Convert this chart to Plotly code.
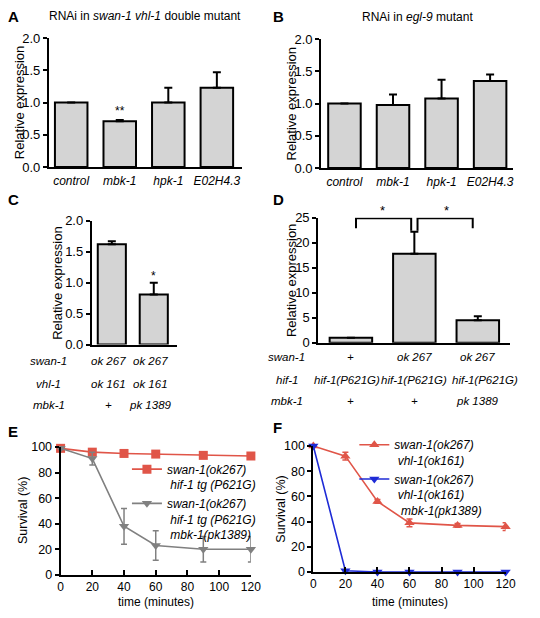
import plotly.graph_objects as go

W, H = 540, 618
def fx(px): return px / W
def fy(py): return 1 - py / H

# ---------------- data ----------------
a_cats = ["control", "mbk-1", "hpk-1", "E02H4.3"]
a_vals = [1.00, 0.71, 1.00, 1.23]
a_err = [0.0, 0.02, 0.23, 0.24]
a_sig = ["", "**", "", ""]

b_cats = ["control", "mbk-1", "hpk-1", "E02H4.3"]
b_vals = [1.00, 0.98, 1.08, 1.35]
b_err = [0.0, 0.16, 0.29, 0.10]

c_rows = ["swan-1", "vhl-1", "mbk-1"]
c_geno = [["ok 267", "ok 161", "+"], ["ok 267", "ok 161", "pk 1389"]]
c_vals = [1.62, 0.81]
c_err = [0.05, 0.19]
c_sig = ["", "*"]

d_rows = ["swan-1", "hif-1", "mbk-1"]
d_geno = [["+", "hif-1(P621G)", "+"],
          ["ok 267", "hif-1(P621G)", "+"],
          ["ok 267", "hif-1(P621G)", "pk 1389"]]
d_vals = [1.0, 17.8, 4.5]
d_err = [0.0, 4.4, 0.8]

time_min = [0, 20, 40, 60, 90, 120]
e_red = [99, 96, 95, 94.5, 93.5, 93]
e_red_err = [1, 1.5, 1, 1.5, 1.5, 1.5]
e_grey = [99, 91, 38, 23, 20, 20]
e_grey_err = [1, 5, 14, 11.5, 10, 10]
e_red_name = "<i>swan-1(ok267)<br>\u00a0hif-1 tg (P621G)</i>"
e_grey_name = "<i>swan-1(ok267)<br>\u00a0hif-1 tg (P621G)<br>\u00a0mbk-1(pk1389)</i>"

f_red = [100, 92, 56, 39, 37, 36]
f_red_err = [0.5, 3, 1.5, 3, 1.5, 3]
f_blue = [100, 1, 0, 0, 0, 0]
f_red_name = "<i>swan-1(ok267)<br>\u00a0vhl-1(ok161)</i>"
f_blue_name = "<i>swan-1(ok267)<br>\u00a0vhl-1(ok161)<br>\u00a0\u00a0mbk-1(pk1389)</i>"

# ---------------- style ----------------
FONT = "Liberation Sans, Arial, sans-serif"
BAR_FILL = "#d4d4d4"
RED = "#e05548"
GREY = "#808080"
BLUE = "#1e2bd6"

fig = go.Figure()

def add_bars(vals, errs, ax):
    fig.add_trace(go.Bar(
        x=list(range(len(vals))), y=vals, width=0.67,
        marker=dict(color=BAR_FILL, line=dict(color="black", width=2)),
        error_y=dict(type="data", array=errs, arrayminus=[0] * len(errs),
                     symmetric=False, color="black", thickness=2, width=4),
        xaxis="x" + ax, yaxis="y" + ax, showlegend=False))

add_bars(a_vals, a_err, "")
add_bars(b_vals, b_err, "2")
add_bars(c_vals, c_err, "3")
add_bars(d_vals, d_err, "4")

def add_line(y, err, color, symbol, name, ax, legend):
    fig.add_trace(go.Scatter(
        x=time_min, y=y, mode="lines+markers", name=name,
        line=dict(color=color, width=1.6),
        marker=dict(color=color, symbol=symbol, size=9),
        error_y=dict(type="data", array=err, color=color, thickness=1.5, width=3),
        xaxis="x" + ax, yaxis="y" + ax, legend=legend, cliponaxis=False))

add_line(e_red, e_red_err, RED, "square", e_red_name, "5", "legend")
add_line(e_grey, e_grey_err, GREY, "triangle-down", e_grey_name, "5", "legend")
add_line(f_red, f_red_err, RED, "triangle-up", f_red_name, "6", "legend2")
add_line(f_blue, [0] * 6, BLUE, "triangle-down", f_blue_name, "6", "legend2")

tickfont = dict(family=FONT, size=13, color="black")
common = dict(showline=True, linecolor="black", linewidth=2, showgrid=False,
              zeroline=False, tickfont=tickfont, ticks="outside", ticklen=4,
              tickwidth=2, tickcolor="black")

def bar_x(domain, rng, labels=None):
    d = dict(common, domain=[fx(domain[0]), fx(domain[1])], range=rng)
    d["ticks"] = ""
    if labels:
        d.update(tickmode="array", tickvals=list(range(len(labels))),
                 ticktext=["<i>%s</i>" % s for s in labels], ticklabelstandoff=2,
                 tickfont=dict(family=FONT, size=12, color="black"))
    else:
        d.update(showticklabels=False)
    return d

def yax(domain, rng, dtick, fmt, anchor):
    return dict(common, domain=[fy(domain[0]), fy(domain[1])], range=rng,
                dtick=dtick, tickformat=fmt, anchor=anchor)

line_tick = dict(family=FONT, size=12.5, color="black")
line_xtick = dict(family=FONT, size=12, color="black")
layout = dict(
    width=W, height=H, margin=dict(l=0, r=0, t=0, b=0),
    paper_bgcolor="white", plot_bgcolor="white",
    font=dict(family=FONT, size=12, color="black"),
    xaxis=dict(bar_x((47, 245), [-0.46, 3.52], a_cats), anchor="y"),
    yaxis=yax((164, 32), [0, 2.0], 0.5, ".1f", "x"),
    xaxis2=dict(bar_x((326, 523), [-0.48, 3.48], b_cats), anchor="y2"),
    yaxis2=yax((165, 33), [0, 2.0], 0.5, ".1f", "x2"),
    xaxis3=dict(bar_x((91, 178), [-0.477, 1.547]), anchor="y3"),
    yaxis3=yax((346, 219), [0, 2.0], 0.5, ".1f", "x3"),
    xaxis4=dict(bar_x((323, 520), [-0.515, 2.515]), anchor="y4"),
    yaxis4=yax((344, 216), [0, 25], 5, "d", "x4"),
    xaxis5=dict(common, domain=[fx(59), fx(254)], range=[0, 120], dtick=20,
                ticks="inside", ticklen=5, anchor="y5", tickfont=line_xtick,
                ticklabelstandoff=0),
    yaxis5=dict(yax((582, 451), [0, 100], 20, "d", "x5"), tickfont=line_tick),
    xaxis6=dict(common, domain=[fx(318), fx(515)], range=[0, 120], dtick=20,
                ticks="inside", ticklen=5, anchor="y6", tickfont=line_xtick,
                ticklabelstandoff=0),
    yaxis6=dict(yax((579, 450), [0, 100], 20, "d", "x6"), tickfont=line_tick),
    legend=dict(x=fx(127), y=fy(459), xanchor="left", yanchor="top",
                bgcolor="rgba(0,0,0,0)", font=dict(family=FONT, size=12),
                valign="top", tracegroupgap=0, itemwidth=30),
    legend2=dict(x=fx(360), y=fy(434), xanchor="left", yanchor="top",
                 bgcolor="rgba(0,0,0,0)", font=dict(family=FONT, size=12),
                 valign="top", tracegroupgap=0, itemwidth=30),
)
fig.update_layout(**layout)

ann = []
def txt(x, y, s, size=12, xref="paper", yref="paper", xanchor="center",
        yanchor="middle", angle=0, bold=False):
    ann.append(dict(x=x, y=y, text=s, xref=xref, yref=yref, showarrow=False,
                    xanchor=xanchor, yanchor=yanchor, textangle=angle,
                    font=dict(family=FONT, size=size, color="black",
                              weight="bold" if bold else "normal")))

# panel letters
for letter, px, py in [("A", 3, 10), ("B", 275, 10), ("C", 3, 197),
                       ("D", 275, 197), ("E", 3, 435), ("F", 275, 431)]:
    txt(fx(px), fy(py), letter, size=15, xanchor="left", bold=True)

# titles
txt(fx(145), fy(9), "RNAi in <i>swan-1 vhl-1</i> double mutant", size=12)
txt(fx(425), fy(10), "RNAi in <i>egl-9</i> mutant", size=12)

# y titles
for px, py, s in [(17, 98, "Relative expression"), (296, 99, "Relative expression"),
                  (55, 283, "Relative expression"), (295, 280, "Relative expression")]:
    txt(fx(px), fy(py), s, angle=-90, size=13)
for px, py, s in [(21, 516, "Survival (%)"), (284, 515, "Survival (%)")]:
    txt(fx(px), fy(py), s, angle=-90, size=12.5)

# x titles
txt(fx(157), fy(610), "time (minutes)", size=12)
txt(fx(417), fy(610), "time (minutes)", size=12)

# significance stars
for i, s in enumerate(a_sig):
    if s:
        txt(i, a_vals[i] + a_err[i] + 0.0, s, xref="x", yref="y", yanchor="bottom")
for i, s in enumerate(c_sig):
    if s:
        txt(i, c_vals[i] + c_err[i] - 0.03, s, xref="x3", yref="y3", yanchor="bottom")

# genotype tables
TB = 11.5
c_row_py = [363, 386, 408]
for r, name in enumerate(c_rows):
    txt(fx(47), fy(c_row_py[r]), "<i>%s</i>" % name, size=TB)
    for ci, col in enumerate(c_geno):
        txt(ci - 0.07, fy(c_row_py[r]), "<i>%s</i>" % col[r], xref="x3", size=TB)
d_row_py = [359, 382, 404]
d_col_shift = [-0.06, 0.0, 0.12]
for r, name in enumerate(d_rows):
    txt(fx(291), fy(d_row_py[r]), "<i>%s</i>" % name, size=TB)
    for ci, col in enumerate(d_geno):
        shift = d_col_shift[ci] if r == 1 else 0.0
        txt(ci + shift, fy(d_row_py[r]), "<i>%s</i>" % col[r], xref="x4", size=TB)

# D brackets
top = 24.9
shapes = [
    dict(type="path", xref="x4", yref="y4",
         path="M 0.08 22.9 L 0.08 %s L 0.95 %s L 0.95 22.4" % (top, top),
         line=dict(color="black", width=2)),
    dict(type="path", xref="x4", yref="y4",
         path="M 1.05 22.4 L 1.05 %s L 1.92 %s L 1.92 22.9" % (top, top),
         line=dict(color="black", width=2)),
]
txt(0.5, 24.6, "*", xref="x4", yref="y4", yanchor="bottom", size=13)
txt(1.5, 24.6, "*", xref="x4", yref="y4", yanchor="bottom", size=13)

fig.update_layout(annotations=ann, shapes=shapes)
fig.write_html("out.html", config={"displayModeBar": False},
               post_script="document.body.style.margin='0';document.body.style.padding='0';")
